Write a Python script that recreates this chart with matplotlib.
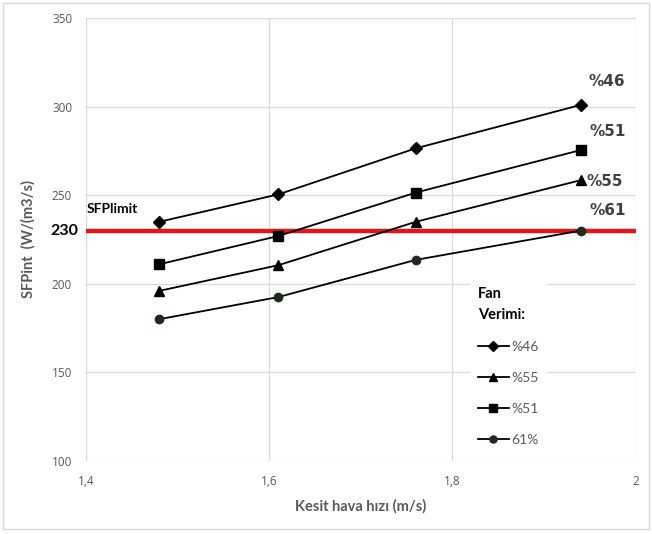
import matplotlib
matplotlib.use('Agg')
import matplotlib.pyplot as plt
from matplotlib.patches import Rectangle

# Data
hiz = [1.48, 1.61, 1.76, 1.94]          # Kesit hava hizi (m/s)
sfp_46 = [235, 250.5, 276.5, 301]
sfp_51 = [211, 227, 251.5, 275.5]
sfp_55 = [196, 210.5, 235, 258.5]
sfp_61 = [180, 192.5, 213.5, 230]
sfp_limit = 230

yticks = [100, 150, 200, 250, 300, 350]
xticks = [1.4, 1.6, 1.8, 2.0]
xtick_labels = ['1,4', '1,6', '1,8', '2']

gray = '#595959'
grid_col = '#d9d9d9'

plt.rcParams['font.family'] = ['Lato', 'DejaVu Sans']

fig = plt.figure(figsize=(6.52, 5.34), dpi=100)
ax = fig.add_axes([0.132, 0.137, 0.843, 0.829])

# outer chart border
fig.patches.append(Rectangle((0.004, 0.01), 0.992, 0.985, transform=fig.transFigure,
                             fill=False, edgecolor=grid_col, linewidth=1))

ax.axhline(sfp_limit, color='#e2161b', linewidth=3.2, zorder=3)

kw = dict(color='black', linewidth=1.3, zorder=4)
ax.plot(hiz, sfp_46, marker='D', markersize=6.5, label='%46', **kw)
ax.plot(hiz, sfp_55, marker='^', markersize=7.5, label='%55', **kw)
ax.plot(hiz, sfp_51, marker='s', markersize=7, label='%51', **kw)
ax.plot(hiz, sfp_61, marker='o', markersize=6, markerfacecolor='#1c2b1c',
        markeredgecolor='#1c2b1c', label='61%', **kw)

ax.set_xlim(1.4, 2.0)
ax.set_ylim(100, 350)
ax.set_xticks(xticks)
ax.set_xticklabels(xtick_labels)
ax.set_yticks(yticks)
ax.grid(True, color=grid_col, linewidth=0.9)
ax.set_axisbelow(True)
for s in ax.spines.values():
    s.set_visible(False)
ax.tick_params(length=0, labelsize=9, labelcolor=gray, pad=10)
for t in ax.get_xticklabels() + ax.get_yticklabels():
    t.set_family(['Open Sans', 'DejaVu Sans'])
    t.set_fontsize(8.5)

ax.set_xlabel('Kesit hava hızı (m/s)', fontsize=10.5, fontweight='bold', color=gray, labelpad=8)
ax.set_ylabel('SFPint  (W/(m3/s)', fontsize=10.5, fontweight='bold', color=gray, labelpad=12)

# extra bold 230 label on the axis
ax.text(-0.015, sfp_limit, '230', transform=ax.get_yaxis_transform(), ha='right', va='center',
        fontsize=11.5, fontweight='bold', color='black')
ax.text(1.401, 240, 'SFPlimit', fontsize=10, fontweight='bold', color='black')

# series end labels
lab_kw = dict(fontsize=11, fontweight='bold', color='#404040', family=['DejaVu Sans'])
ax.text(1.948, 314, '%46', ha='left', va='center', **lab_kw)
ax.text(1.950, 286, '%51', ha='left', va='center', **lab_kw)
ax.text(1.946, 258, '%55', ha='left', va='center', **lab_kw)
ax.text(1.950, 241.5, '%61', ha='left', va='center', **lab_kw)

leg = ax.legend(loc='lower right', bbox_to_anchor=(0.85, 0.0), title='Fan\nVerimi:',
                frameon=True, facecolor='white', edgecolor='white', framealpha=1,
                fontsize=10, handlelength=2.2, handletextpad=0.2, labelspacing=1.38,
                alignment='left', borderpad=0.55, markerscale=0.85)
leg.get_title().set_fontweight('bold')
leg.get_title().set_fontsize(10.5)
leg.get_title().set_linespacing(1.6)
for t in leg.get_texts():
    t.set_color(gray)
leg.set_zorder(5)

fig.savefig('out.png', dpi=100)
